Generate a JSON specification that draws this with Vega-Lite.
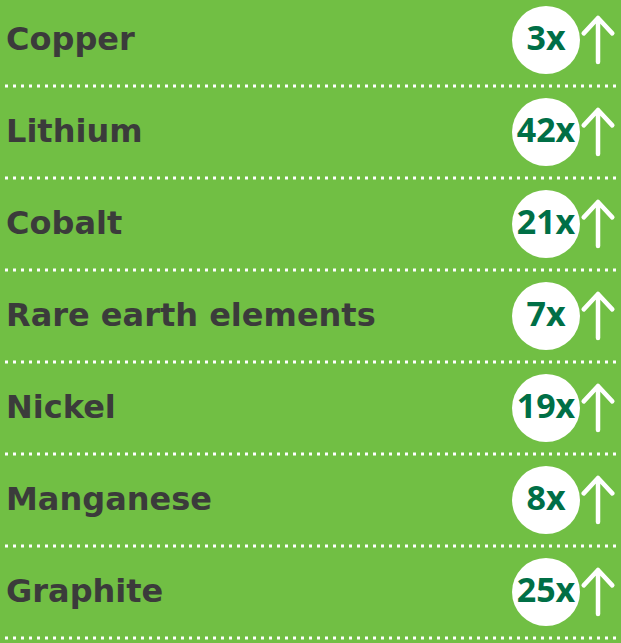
{
  "$schema": "https://vega.github.io/schema/vega-lite/v6.json",
  "width": 621,
  "height": 643,
  "autosize": "none",
  "padding": 0,
  "background": "#71bf44",
  "config": {"view": {"stroke": null}},
  "data": {
    "values": [
      {"mineral": "Copper", "growth": "3x"},
      {"mineral": "Lithium", "growth": "42x"},
      {"mineral": "Cobalt", "growth": "21x"},
      {"mineral": "Rare earth elements", "growth": "7x"},
      {"mineral": "Nickel", "growth": "19x"},
      {"mineral": "Manganese", "growth": "8x"},
      {"mineral": "Graphite", "growth": "25x"}
    ]
  },
  "layer": [
    {
      "mark": {"type": "rule", "color": "white", "strokeWidth": 3, "strokeDash": [3, 5], "strokeDashOffset": -5},
      "encoding": {
        "y": {"field": "mineral", "type": "nominal", "sort": null, "bandPosition": 1, "scale": {"range": [-6, 638], "paddingInner": 0, "paddingOuter": 0}, "axis": null},
        "x": {"datum": 0, "type": "quantitative", "scale": {"domain": [0, 621], "nice": false, "zero": false}, "axis": null},
        "x2": {"datum": 621}
      }
    },
    {
      "mark": {"type": "text", "align": "left", "baseline": "middle", "font": "DejaVu Sans", "fontWeight": "bold", "fontSize": 32, "color": "#3b3b3b"},
      "encoding": {
        "y": {"field": "mineral", "type": "nominal", "sort": null, "axis": null},
        "x": {"datum": 6, "type": "quantitative", "axis": null},
        "text": {"field": "mineral"}
      }
    },
    {
      "mark": {"type": "point", "shape": "circle", "filled": true, "color": "white", "opacity": 1, "size": 4624},
      "encoding": {
        "y": {"field": "mineral", "type": "nominal", "sort": null, "axis": null},
        "x": {"datum": 546, "type": "quantitative", "axis": null}
      }
    },
    {
      "mark": {"type": "text", "align": "center", "baseline": "middle", "font": "Open Sans", "fontWeight": "bold", "fontSize": 34, "color": "#006f46"},
      "encoding": {
        "y": {"field": "mineral", "type": "nominal", "sort": null, "axis": null},
        "x": {"datum": 546, "type": "quantitative", "axis": null},
        "text": {"field": "growth"}
      }
    },
    {
      "mark": {"type": "point", "shape": "M0,1 L0,-1 M-0.65,-0.3 L0,-1 L0.65,-0.3", "filled": false, "stroke": "white", "strokeWidth": 4.5, "strokeCap": "round", "strokeJoin": "round", "opacity": 1, "size": 1936},
      "encoding": {
        "y": {"field": "mineral", "type": "nominal", "sort": null, "axis": null},
        "x": {"datum": 598, "type": "quantitative", "axis": null}
      }
    }
  ]
}
